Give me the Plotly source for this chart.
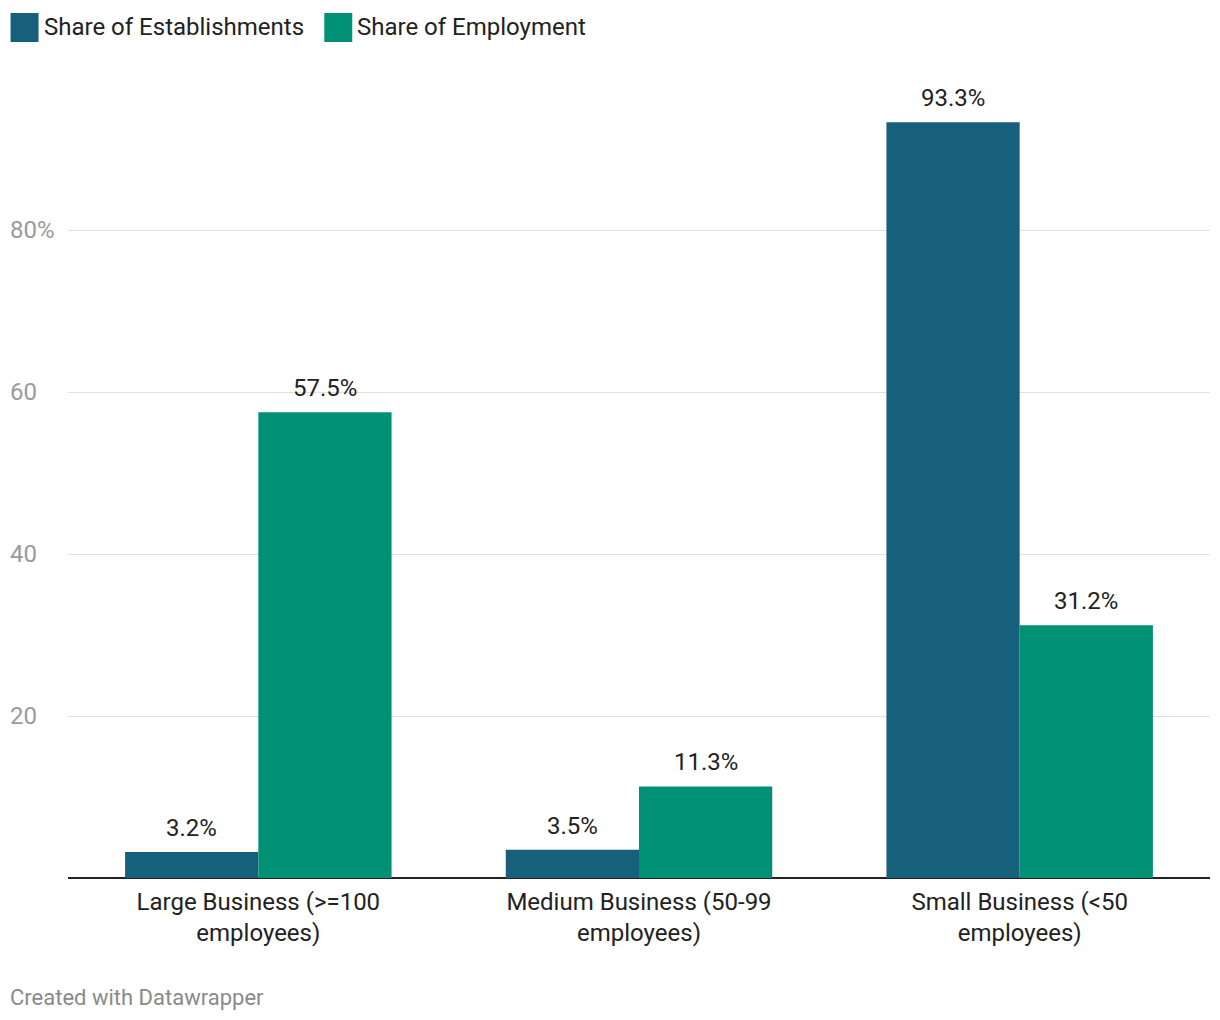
import plotly.graph_objects as go

categories = ["Large Business (>=100<br>employees)", "Medium Business (50-99<br>employees)", "Small Business (<50<br>employees)"]
establishments = [3.2, 3.5, 93.3]
employment = [57.5, 11.3, 31.2]
series_names = ["Share of Establishments", "Share of Employment"]
colors = ["#17607b", "#009175"]
y_ticks = [20, 40, 60, 80]
y_tick_labels = ["20", "40", "60", "80%"]

# page offset (body margin) compensation
O = 8
W, H = 1220 - O, 1020 - O
L = 67.5 - O
T = 68 - O
R = W - (1210.5 - O)
B = H - (878 - O)
pw, ph = W - L - R, H - T - B
FONT = "Roboto"

def px_to_paper_x(px):
    return (px - O - L) / pw

def px_to_paper_y(py):
    return (H - B - (py - O)) / ph

fig = go.Figure()
for name, vals, col in zip(series_names, [establishments, employment], colors):
    fig.add_trace(go.Bar(x=categories, y=vals, name=name, marker=dict(color=col, line=dict(width=0)),
                         showlegend=False))

annotations = []
bar_half = 133.5 / 2
for vals, shift in [(establishments, -bar_half), (employment, bar_half)]:
    for c, v in zip(categories, vals):
        annotations.append(dict(x=c, y=v, xref="x", yref="y", text=f"{v:.1f}%", showarrow=False,
                                xshift=shift, yshift=24, yanchor="middle",
                                font=dict(family=FONT, size=24, color="#222222")))

for tv, tl in zip(y_ticks, y_tick_labels):
    annotations.append(dict(x=px_to_paper_x(7), y=tv, xref="paper", yref="y", text=tl, showarrow=False,
                            xanchor="left", yanchor="middle",
                            font=dict(family=FONT, size=24, color="#9a9a9a")))

# legend
shapes = []
leg_items = [(10, 41), (324, 355)]
for (sx, tx), name, col in zip(leg_items, series_names, colors):
    shapes.append(dict(type="rect", xref="paper", yref="paper",
                       x0=px_to_paper_x(sx), x1=px_to_paper_x(sx + 28),
                       y0=px_to_paper_y(42), y1=px_to_paper_y(13),
                       fillcolor=col, line=dict(width=0)))
    annotations.append(dict(x=px_to_paper_x(tx), y=px_to_paper_y(27), xref="paper", yref="paper",
                            text=name, showarrow=False, xanchor="left", yanchor="middle",
                            font=dict(family=FONT, size=24, color="#222222")))

annotations.append(dict(x=px_to_paper_x(7), y=px_to_paper_y(997), xref="paper", yref="paper",
                        text="Created with Datawrapper", showarrow=False, xanchor="left", yanchor="middle",
                        font=dict(family=FONT, size=22, color="#8a8a8a")))

fig.update_layout(
    width=W, height=H,
    margin=dict(l=L, r=R, t=T, b=B, pad=0),
    paper_bgcolor="white", plot_bgcolor="white",
    barmode="group", bargap=0.3, bargroupgap=0,
    annotations=annotations, shapes=shapes,
    font=dict(family=FONT),
)
fig.update_xaxes(showgrid=False, showline=False, ticks="", range=[-0.5, 2.5], ticklabelstandoff=7,
                 tickfont=dict(family=FONT, size=24, color="#222222"))
fig.update_yaxes(range=[0, 100], tickvals=y_ticks, showticklabels=False, showgrid=True,
                 gridcolor="#e1e1e1", gridwidth=1, zeroline=True, zerolinecolor="#222222",
                 zerolinewidth=2, showline=False, fixedrange=True)

fig.write_html("out.html")
